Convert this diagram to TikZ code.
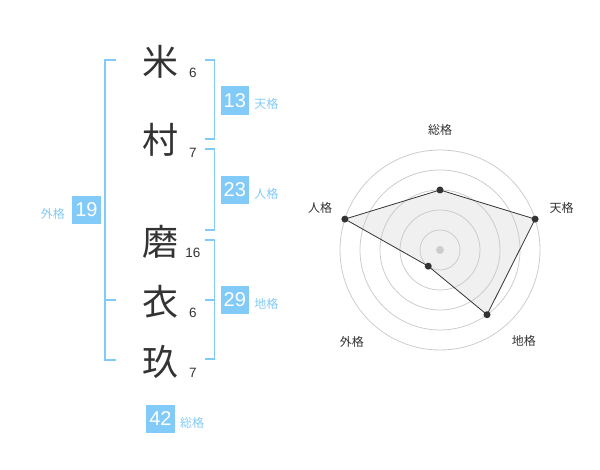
\documentclass[tikz,border=0pt]{standalone}
\usepackage{fontspec}
\setmainfont{Liberation Sans}
\newfontfamily\jpfont{Noto Sans CJK JP}
\usepackage{tikz}
\definecolor{kakublue}{HTML}{82CAF8}
\definecolor{inkgray}{HTML}{333333}
\definecolor{ringgray}{HTML}{CCCCCC}
\definecolor{areagray}{HTML}{F0F0F0}
\tikzstyle{kanji}=[text=inkgray,font=\jpfont\fontsize{36}{36}\selectfont,inner sep=0pt]
\tikzstyle{strokes}=[text=inkgray,font=\fontsize{13.5}{13.5}\selectfont,inner sep=0pt]
\tikzstyle{kaku}=[fill=kakublue,text=white,minimum size=28.5pt,inner sep=0pt,font=\fontsize{20}{20}\selectfont]
\tikzstyle{kakulabel}=[text=kakublue,font=\jpfont\fontsize{12}{12}\selectfont,anchor=west,inner sep=0pt]
\tikzstyle{bracket}=[draw=kakublue,line width=1.8pt]
\tikzstyle{ring}=[draw=ringgray,line width=0.8pt]
\tikzstyle{dot}=[circle,fill=inkgray,inner sep=0pt,minimum size=7pt]
\tikzstyle{axislabel}=[text=inkgray,font=\jpfont\fontsize{12}{12}\selectfont,inner sep=0pt]

\begin{document}
\begin{tikzpicture}[x=1pt,y=1pt]
	\useasboundingbox (0,0) rectangle (600,470);
	\node[kanji] (kome) at (160,408) {米};
	\node[strokes] (kome-n) at (193,397) {6};
	\node[kanji] (mura) at (160,330) {村};
	\node[strokes] (mura-n) at (193,317) {7};
	\node[kanji] (ma) at (160,228) {磨};
	\node[strokes] (ma-n) at (193,217) {16};
	\node[kanji] (koromo) at (160,168) {衣};
	\node[strokes] (koromo-n) at (193,157) {6};
	\node[kanji] (kyu) at (160,108) {玖};
	\node[strokes] (kyu-n) at (193,97) {7};

	\draw[bracket] (116,410) -- (105,410) -- (105,110) -- (116,110);
	\draw[bracket] (105,170) -- (116,170);
	\draw[bracket] (205,410) -- (214.5,410) -- (214.5,330.7) -- (205,330.7);
	\draw[bracket] (205,320.7) -- (214.5,320.7) -- (214.5,240) -- (205,240);
	\draw[bracket] (205,230) -- (214.5,230) -- (214.5,110.7) -- (205,110.7);
	\draw[bracket] (205,170) -- (214.5,170);

	\node[kaku] (ten) at (234.8,369.5) {13};
	\node[kakulabel] (ten-label) at ([xshift=5pt,yshift=-3.5pt]ten.east) {天格};
	\node[kaku] (jin) at (234.8,280) {23};
	\node[kakulabel] (jin-label) at ([xshift=5pt,yshift=-3.5pt]jin.east) {人格};
	\node[kaku] (chi) at (234.8,170) {29};
	\node[kakulabel] (chi-label) at ([xshift=5pt,yshift=-3.5pt]chi.east) {地格};
	\node[kaku] (gai) at (86.5,260) {19};
	\node[kakulabel,anchor=east] (gai-label) at ([xshift=-7pt,yshift=-3.5pt]gai.west) {外格};
	\node[kaku] (sou) at (160.5,51) {42};
	\node[kakulabel] (sou-label) at ([xshift=5pt,yshift=-3.5pt]sou.east) {総格};

	\begin{scope}[shift={(440,220)}]
		\coordinate (r-sou) at (90:60);
		\coordinate (r-ten) at (18:100);
		\coordinate (r-chi) at (-54:80);
		\coordinate (r-gai) at (-126:20);
		\coordinate (r-jin) at (162:100);
		\fill[areagray] (r-sou) -- (r-ten) -- (r-chi) -- (r-gai) -- (r-jin) -- cycle;
		\foreach \r in {20,40,60,80,100}
			\draw[ring] (0,0) circle (\r pt);
		\fill[ringgray] (0,0) circle (4pt);
		\draw[inkgray,line width=0.8pt] (r-sou) -- (r-ten) -- (r-chi) -- (r-gai) -- (r-jin) -- cycle;
		\foreach \p in {sou,ten,chi,gai,jin}
			\node[dot] at (r-\p) {};
		\node[axislabel] (l-sou) at (90:120) {総格};
		\node[axislabel] (l-ten) at (19:128.5) {天格};
		\node[axislabel] (l-chi) at (-47.5:124) {地格};
		\node[axislabel] (l-gai) at (-133.9:127) {外格};
		\node[axislabel] (l-jin) at (160.7:127) {人格};
	\end{scope}
\end{tikzpicture}
\end{document}
